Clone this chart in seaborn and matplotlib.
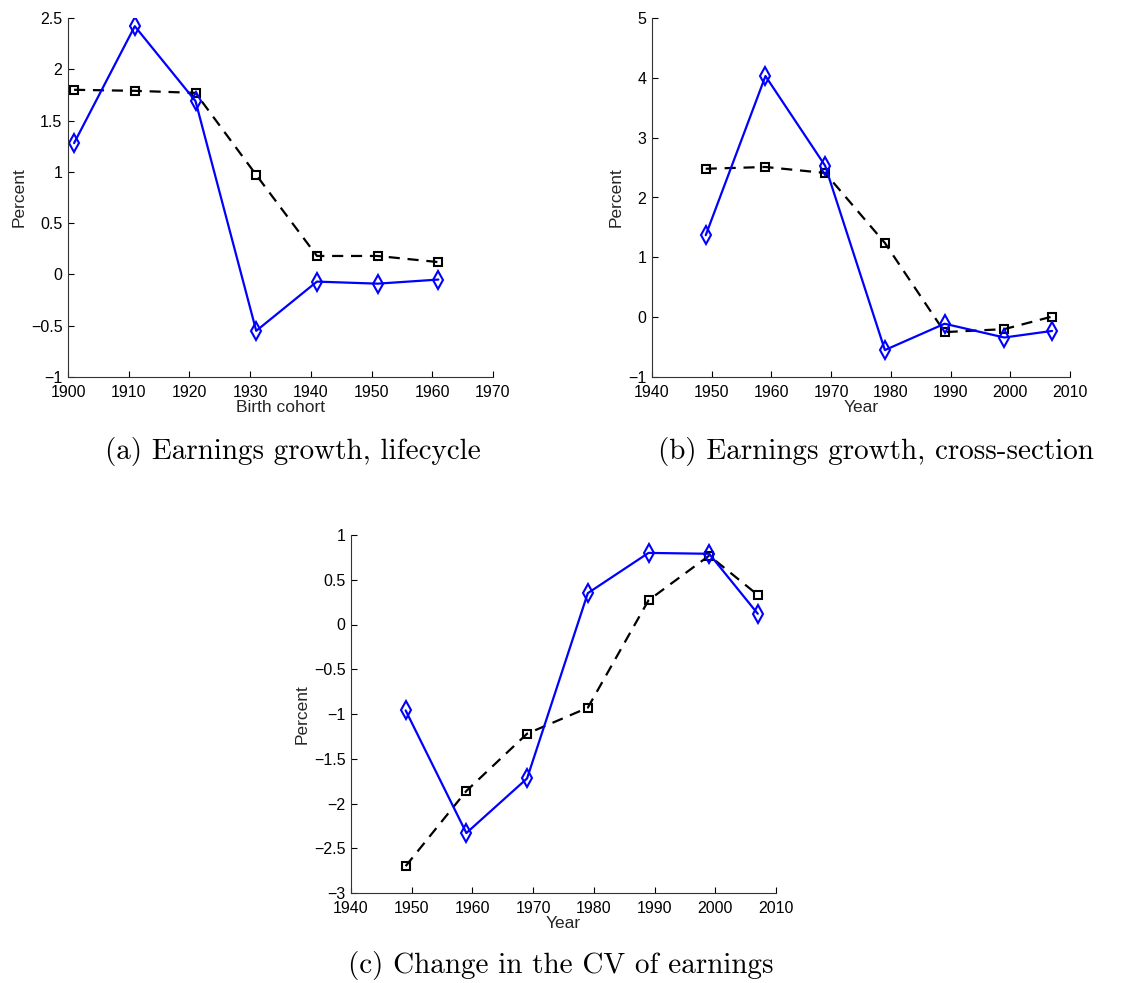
import numpy as np
import pandas as pd
import matplotlib
matplotlib.use("Agg")
import matplotlib.pyplot as plt
import seaborn as sns

# Birth cohorts for the lifecycle panel, survey years for the others
cohorts = [1901, 1911, 1921, 1931, 1941, 1951, 1961]
years = [1949, 1959, 1969, 1979, 1989, 1999, 2007]

# (a) Earnings growth, lifecycle
life_blue = [1.28, 2.42, 1.69, -0.55, -0.07, -0.09, -0.05]
life_black = [1.80, 1.79, 1.77, 0.97, 0.18, 0.18, 0.12]

# (b) Earnings growth, cross-section
cross_blue = [1.37, 4.03, 2.53, -0.55, -0.11, -0.34, -0.23]
cross_black = [2.48, 2.51, 2.41, 1.24, -0.25, -0.20, 0.01]

# (c) Change in the CV of earnings
cv_blue = [-0.96, -2.33, -1.72, 0.35, 0.80, 0.79, 0.12]
cv_black = [-2.70, -1.86, -1.22, -0.93, 0.27, 0.77, 0.33]

captions = ["(a) Earnings growth, lifecycle",
            "(b) Earnings growth, cross-section",
            "(c) Change in the CV of earnings"]

sns.set_style("ticks")
plt.rcParams["font.family"] = ["Liberation Sans", "DejaVu Sans"]

fig = plt.figure(figsize=(11.38, 9.83), dpi=100)

W, H = 1138, 983


def axes_px(left, right, top, bottom):
    return fig.add_axes([left / W, 1 - bottom / H, (right - left) / W, (bottom - top) / H])


ax_a = axes_px(68, 493, 18, 377)
ax_b = axes_px(652, 1070, 18, 377)
ax_c = axes_px(351, 776, 535, 893)


def draw(ax, x, blue, black, xlim, ylim, ystep, xlabel):
    df = pd.DataFrame({"x": x, "blue": blue, "black": black})
    sns.lineplot(data=df, x="x", y="black", ax=ax, color="black", linestyle="--",
                 dashes=False, lw=1.6, marker="s", markersize=6,
                 markerfacecolor="none", markeredgecolor="black",
                 markeredgewidth=1.5, errorbar=None)
    ax.lines[-1].set_dashes((5, 3.5))
    sns.lineplot(data=df, x="x", y="blue", ax=ax, color="#0000ff", lw=1.6,
                 marker="d", markersize=9, markerfacecolor="none",
                 markeredgecolor="#0000ff", markeredgewidth=1.5, errorbar=None)
    ax.set_xlim(*xlim)
    ax.set_ylim(*ylim)
    ax.set_xticks(np.arange(xlim[0], xlim[1] + 1, 10))
    yt = np.arange(ylim[0], ylim[1] + ystep / 2, ystep)
    ax.set_yticks(yt)
    ax.set_yticklabels([f"{v:g}".replace("-", "\u2212") for v in yt])
    ax.tick_params(direction="in", length=4, width=0.8, labelsize=11.5,
                   colors="black")
    ax.tick_params(axis="x", pad=6)
    ax.tick_params(axis="y", pad=4)
    for s in ("left", "bottom"):
        ax.spines[s].set_linewidth(0.8)
        ax.spines[s].set_color("#333333")
    sns.despine(ax=ax)
    ax.set_xlabel(xlabel, fontsize=12.5, labelpad=0)
    ax.set_ylabel("Percent", fontsize=12.5, labelpad=3)


draw(ax_a, cohorts, life_blue, life_black, (1900, 1970), (-1, 2.5), 0.5, "Birth cohort")
draw(ax_b, years, cross_blue, cross_black, (1940, 2010), (-1, 5), 1, "Year")
draw(ax_c, years, cv_blue, cv_black, (1940, 2010), (-3, 1), 0.5, "Year")

cap_kw = dict(ha="center", va="center", fontsize=21, family="cmr10", color="black")
fig.text(293 / W, 1 - 452 / H, captions[0], **cap_kw)
fig.text(876 / W, 1 - 452 / H, captions[1], **cap_kw)
fig.text(561 / W, 1 - 965 / H, captions[2], **cap_kw)

fig.savefig("out.png", dpi=100)
